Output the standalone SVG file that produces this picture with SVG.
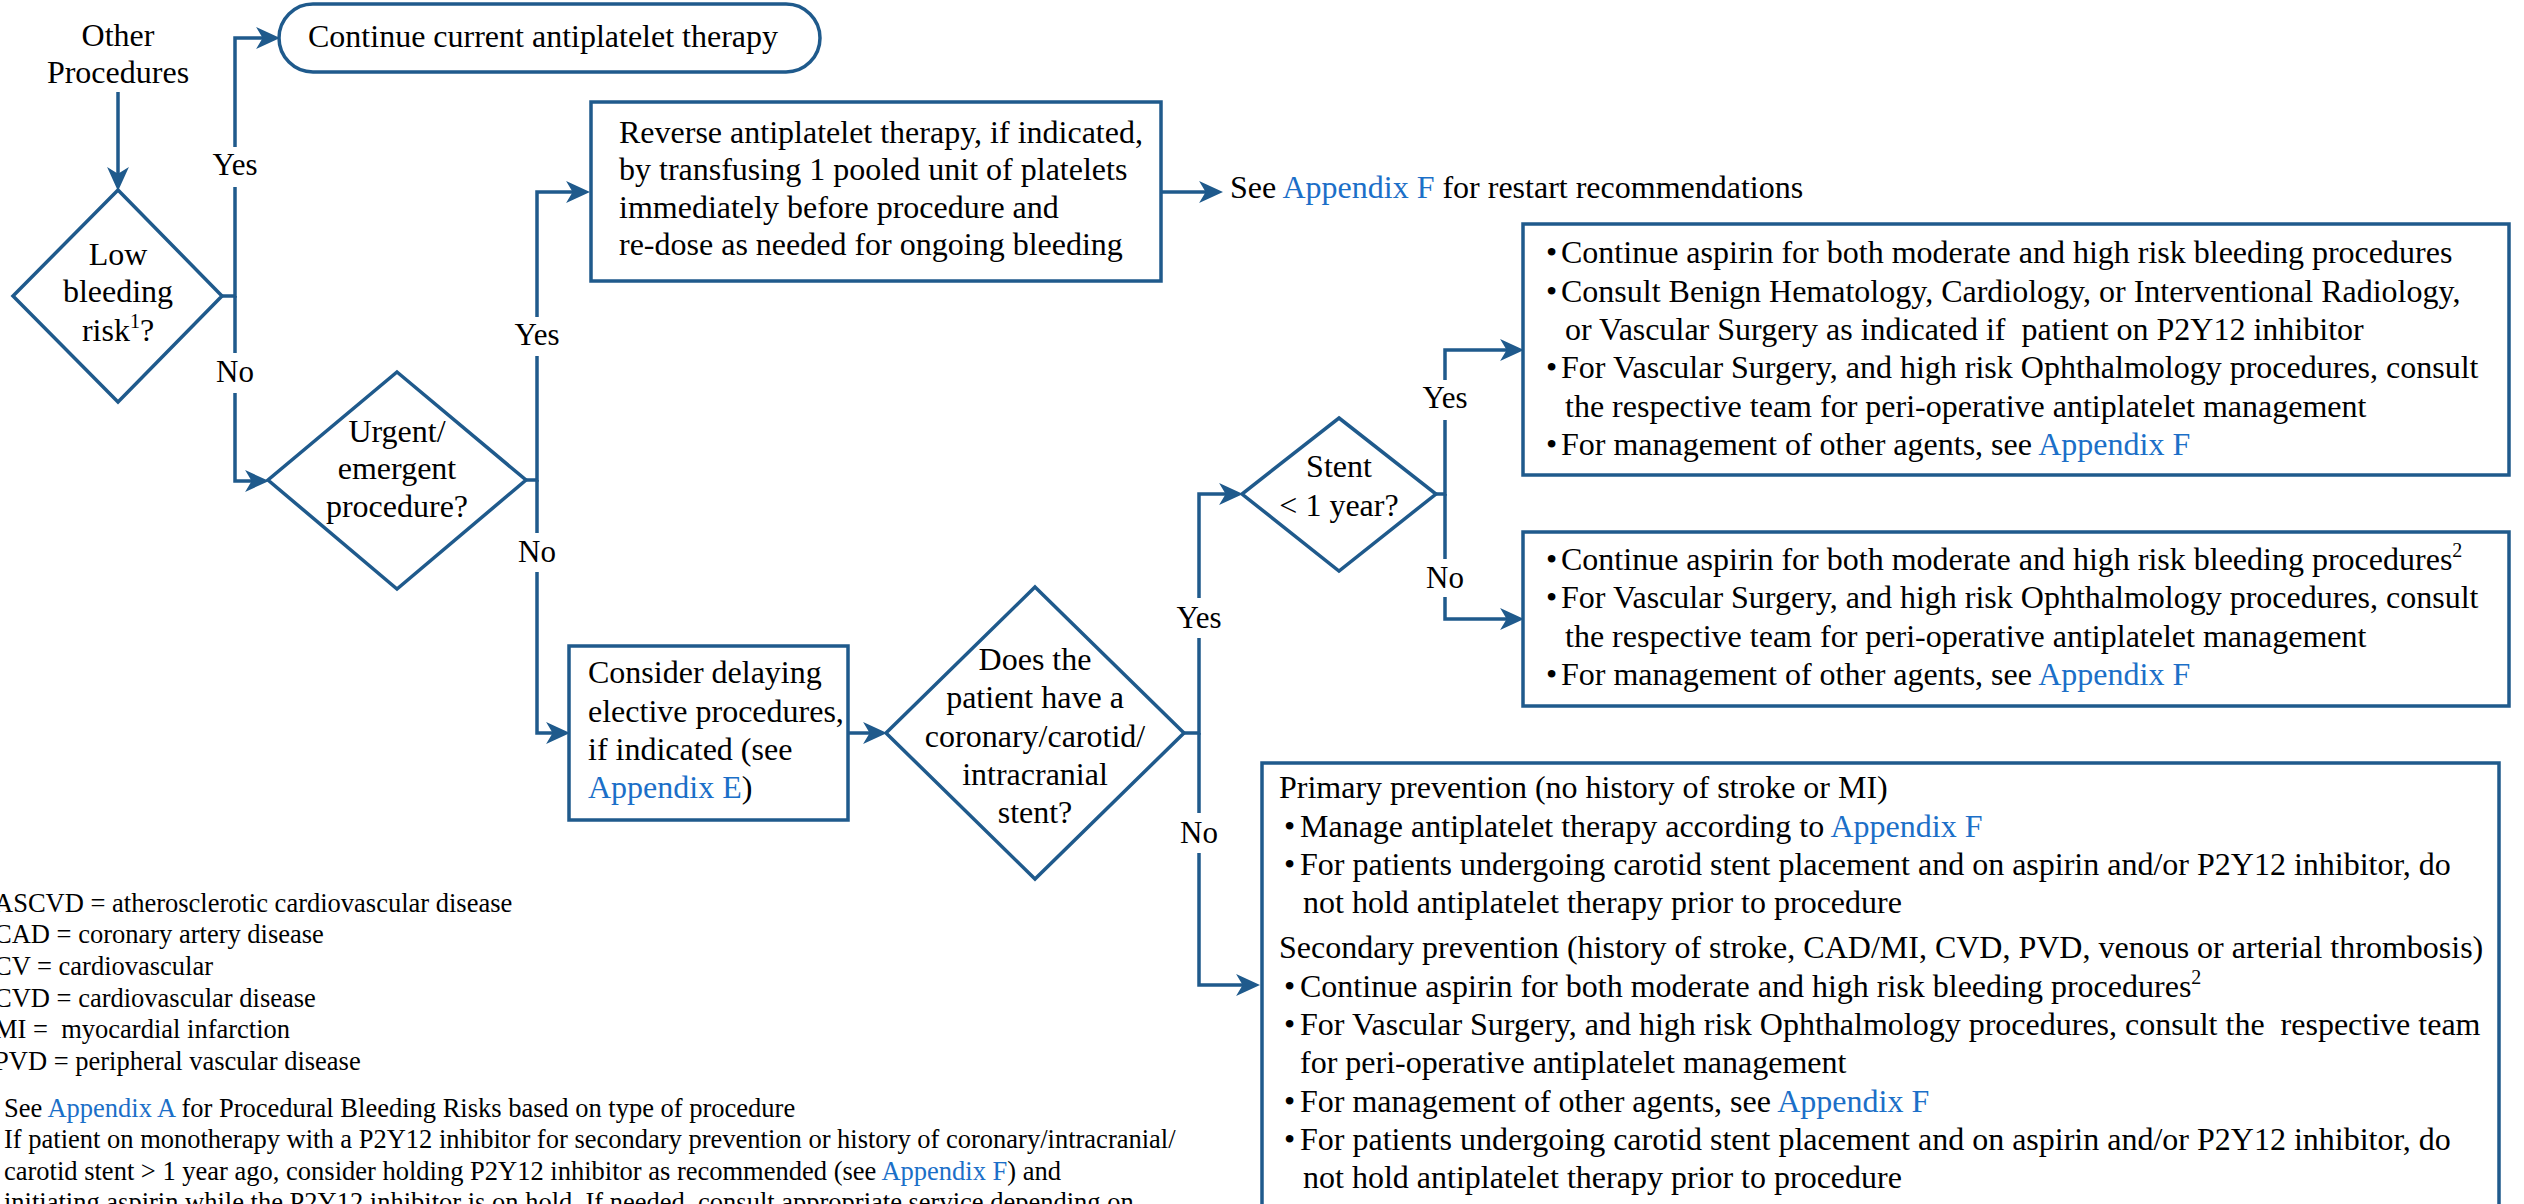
<svg xmlns="http://www.w3.org/2000/svg" width="2524" height="1204" viewBox="0 0 2524 1204">
<style>
.t{font-family:"Liberation Serif","Times New Roman",serif;font-size:32px;fill:#000}
.c{text-anchor:middle}
.lbl{font-family:"Liberation Serif","Times New Roman",serif;font-size:31px;fill:#000;text-anchor:middle}
.fn{font-family:"Liberation Serif","Times New Roman",serif;font-size:26.5px;fill:#000}
.lk{fill:#1b6fc8}
.box{fill:#fff;stroke:#1f5a8c;stroke-width:3.5}
.ln{fill:none;stroke:#1f5a8c;stroke-width:3.5;stroke-linejoin:miter}
</style>
<defs>
<marker id="arr" markerUnits="userSpaceOnUse" markerWidth="24" markerHeight="22" viewBox="0 0 22 20" refX="10" refY="10" orient="auto">
<path d="M0,0 L22,10 L0,20 L6,10 z" fill="#1f5a8c"/>
</marker>
</defs>
<rect width="2524" height="1204" fill="#fff"/>

<g id="connectors">
<path class="ln" d="M118,92 V178" marker-end="url(#arr)"/>
<path class="ln" d="M222,296 H235 V187 M235,147 V38 H267" marker-end="url(#arr)"/>
<path class="ln" d="M235,296 V353 M235,393 V481 H256" marker-end="url(#arr)"/>
<path class="ln" d="M526,480 H537 V356 M537,317 V192 H577" marker-end="url(#arr)"/>
<path class="ln" d="M537,480 V533 M537,572 V733 H557" marker-end="url(#arr)"/>
<path class="ln" d="M1161,192 H1210" marker-end="url(#arr)"/>
<path class="ln" d="M848,733 H874" marker-end="url(#arr)"/>
<path class="ln" d="M1184,733 H1199 V638 M1199,598 V494 H1230" marker-end="url(#arr)"/>
<path class="ln" d="M1199,733 V813 M1199,853 V985 H1247" marker-end="url(#arr)"/>
<path class="ln" d="M1436,494 H1445 V420 M1445,380 V350 H1511" marker-end="url(#arr)"/>
<path class="ln" d="M1445,494 V559 M1445,597 V619 H1511" marker-end="url(#arr)"/>
<text class="lbl" x="235" y="175">Yes</text>
<text class="lbl" x="235" y="382">No</text>
<text class="lbl" x="537" y="345">Yes</text>
<text class="lbl" x="537" y="562">No</text>
<text class="lbl" x="1199" y="628">Yes</text>
<text class="lbl" x="1199" y="843">No</text>
<text class="lbl" x="1445" y="408">Yes</text>
<text class="lbl" x="1445" y="588">No</text>
</g>

<g id="start">
<text class="t c" x="118" y="46">Other</text>
<text class="t c" x="118" y="83">Procedures</text>
</g>

<g id="low-bleeding">
<polygon class="box" points="118,190 222,296 118,402 13,296"/>
<text class="t c" x="118" y="265">Low</text>
<text class="t c" x="118" y="302">bleeding</text>
<text class="t c" x="118" y="341">risk<tspan font-size="20" dy="-13">1</tspan><tspan dy="13">?</tspan></text>
</g>

<g id="continue">
<rect class="box" x="279" y="4" width="541" height="68" rx="34" ry="34"/>
<text class="t" x="308" y="47">Continue current antiplatelet therapy</text>
</g>

<g id="urgent">
<polygon class="box" points="397,372 526,480 397,589 268,480"/>
<text class="t c" x="397" y="442">Urgent/</text>
<text class="t c" x="397" y="479">emergent</text>
<text class="t c" x="397" y="517">procedure?</text>
</g>

<g id="reverse">
<rect class="box" x="591" y="102" width="570" height="179"/>
<text class="t" x="619" y="143">Reverse antiplatelet therapy, if indicated,</text>
<text class="t" x="619" y="180">by transfusing 1 pooled unit of platelets</text>
<text class="t" x="619" y="218">immediately before procedure and</text>
<text class="t" x="619" y="255">re-dose as needed for ongoing bleeding</text>
</g>

<g id="restart">
<text class="t" x="1230" y="198">See <tspan class="lk">Appendix F</tspan> for restart recommendations</text>
</g>

<g id="consider">
<rect class="box" x="569" y="646" width="279" height="174"/>
<text class="t" x="588" y="683">Consider delaying</text>
<text class="t" x="588" y="722">elective procedures,</text>
<text class="t" x="588" y="760">if indicated (see</text>
<text class="t" x="588" y="798"><tspan class="lk">Appendix E</tspan>)</text>
</g>

<g id="stent-q">
<polygon class="box" points="1035,587 1184,733 1035,879 886,733"/>
<text class="t c" x="1035" y="670">Does the</text>
<text class="t c" x="1035" y="708">patient have a</text>
<text class="t c" x="1035" y="747">coronary/carotid/</text>
<text class="t c" x="1035" y="785">intracranial</text>
<text class="t c" x="1035" y="823">stent?</text>
</g>

<g id="stent-year">
<polygon class="box" points="1339,418 1436,494 1339,571 1242,494"/>
<text class="t c" x="1339" y="477">Stent</text>
<text class="t c" x="1339" y="516">&lt; 1 year?</text>
</g>

<g id="box-yes">
<rect class="box" x="1523" y="224" width="986" height="251"/>
<text class="t" y="263"><tspan x="1546">•</tspan><tspan x="1561">Continue aspirin for both moderate and high risk bleeding procedures</tspan></text>
<text class="t" y="302"><tspan x="1546">•</tspan><tspan x="1561">Consult Benign Hematology, Cardiology, or Interventional Radiology,</tspan></text>
<text class="t" x="1565" y="340" xml:space="preserve">or Vascular Surgery as indicated if  patient on P2Y12 inhibitor</text>
<text class="t" y="378"><tspan x="1546">•</tspan><tspan x="1561">For Vascular Surgery, and high risk Ophthalmology procedures, consult</tspan></text>
<text class="t" x="1565" y="417">the respective team for peri-operative antiplatelet management</text>
<text class="t" y="455"><tspan x="1546">•</tspan><tspan x="1561">For management of other agents, see <tspan class="lk">Appendix F</tspan></tspan></text>
</g>

<g id="box-no">
<rect class="box" x="1523" y="532" width="986" height="174"/>
<text class="t" y="570"><tspan x="1546">•</tspan><tspan x="1561">Continue aspirin for both moderate and high risk bleeding procedures<tspan font-size="20" dy="-13">2</tspan></tspan></text>
<text class="t" y="608"><tspan x="1546">•</tspan><tspan x="1561">For Vascular Surgery, and high risk Ophthalmology procedures, consult</tspan></text>
<text class="t" x="1565" y="647">the respective team for peri-operative antiplatelet management</text>
<text class="t" y="685"><tspan x="1546">•</tspan><tspan x="1561">For management of other agents, see <tspan class="lk">Appendix F</tspan></tspan></text>
</g>

<g id="box-prevention">
<rect class="box" x="1262" y="763" width="1237" height="470"/>
<text class="t" x="1279" y="798">Primary prevention (no history of stroke or MI)</text>
<text class="t" y="837"><tspan x="1284">•</tspan><tspan x="1300">Manage antiplatelet therapy according to <tspan class="lk">Appendix F</tspan></tspan></text>
<text class="t" y="875"><tspan x="1284">•</tspan><tspan x="1300">For patients undergoing carotid stent placement and on aspirin and/or P2Y12 inhibitor, do</tspan></text>
<text class="t" x="1303" y="913">not hold antiplatelet therapy prior to procedure</text>
<text class="t" x="1279" y="958">Secondary prevention (history of stroke, CAD/MI, CVD, PVD, venous or arterial thrombosis)</text>
<text class="t" y="997"><tspan x="1284">•</tspan><tspan x="1300">Continue aspirin for both moderate and high risk bleeding procedures<tspan font-size="20" dy="-13">2</tspan></tspan></text>
<text class="t" y="1035" xml:space="preserve"><tspan x="1284">•</tspan><tspan x="1300">For Vascular Surgery, and high risk Ophthalmology procedures, consult the  respective team</tspan></text>
<text class="t" x="1300" y="1073">for peri-operative antiplatelet management</text>
<text class="t" y="1112"><tspan x="1284">•</tspan><tspan x="1300">For management of other agents, see <tspan class="lk">Appendix F</tspan></tspan></text>
<text class="t" y="1150"><tspan x="1284">•</tspan><tspan x="1300">For patients undergoing carotid stent placement and on aspirin and/or P2Y12 inhibitor, do</tspan></text>
<text class="t" x="1303" y="1188">not hold antiplatelet therapy prior to procedure</text>
</g>

<g id="footnotes">
<text class="fn" x="-6" y="912">ASCVD = atherosclerotic cardiovascular disease</text>
<text class="fn" x="-6" y="943">CAD = coronary artery disease</text>
<text class="fn" x="-6" y="975">CV = cardiovascular</text>
<text class="fn" x="-6" y="1007">CVD = cardiovascular disease</text>
<text class="fn" x="-6" y="1038" xml:space="preserve">MI =  myocardial infarction</text>
<text class="fn" x="-6" y="1070">PVD = peripheral vascular disease</text>
<text class="fn" x="4" y="1117">See <tspan class="lk">Appendix A</tspan> for Procedural Bleeding Risks based on type of procedure</text>
<text class="fn" x="4" y="1148">If patient on monotherapy with a P2Y12 inhibitor for secondary prevention or history of coronary/intracranial/</text>
<text class="fn" x="4" y="1180">carotid stent &gt; 1 year ago, consider holding P2Y12 inhibitor as recommended (see <tspan class="lk">Appendix F</tspan>) and</text>
<text class="fn" x="4" y="1211">initiating aspirin while the P2Y12 inhibitor is on hold. If needed, consult appropriate service depending on</text>
</g>
</svg>
